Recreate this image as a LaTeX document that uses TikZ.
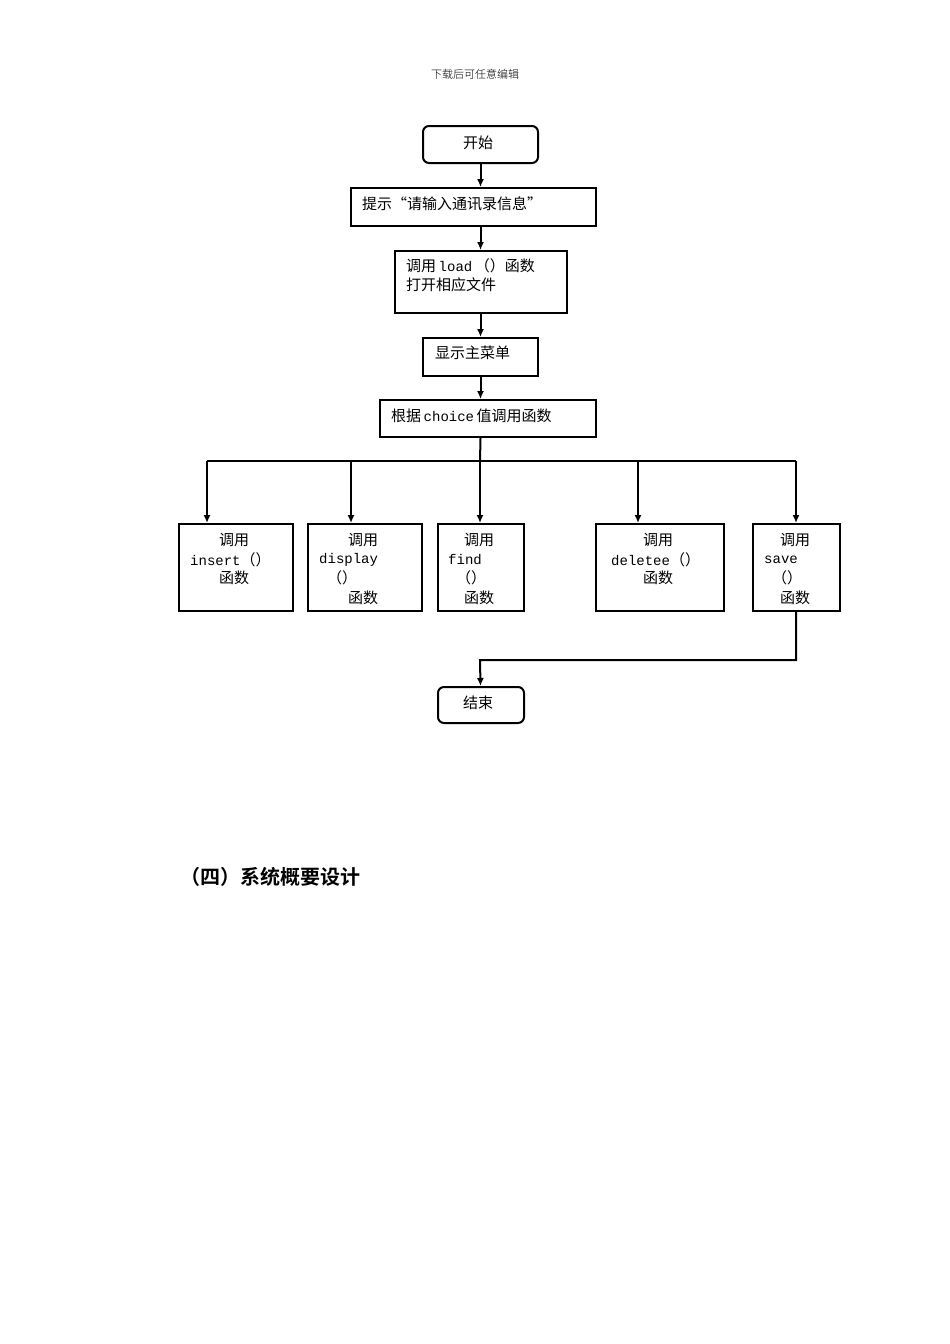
\documentclass[tikz,border=0pt]{standalone}
\usetikzlibrary{arrows.meta}
\usepackage{fontspec}
\newfontfamily\cjk{Noto Sans CJK SC}
\newfontfamily\cjkb{Noto Sans CJK SC Bold}
\newfontfamily\mymono{Liberation Mono}
\newfontfamily\hdr{Noto Sans CJK SC Light}
\newcommand\mm[1]{{\mymono\fontsize{14}{14}\selectfont #1}}
\begin{document}
\begin{tikzpicture}[x=1pt,y=-1pt,
  box/.style={draw,line width=2pt,anchor=north west,inner sep=0pt},
  rbox/.style={box,rounded corners=6pt},
  t/.style={anchor=west,inner sep=0pt,font=\cjk\fontsize{15}{15}\selectfont},
  ar/.style={line width=2pt,-{Latex[length=8pt,width=7pt]}},
  ln/.style={line width=2pt}]
\useasboundingbox (0,0) rectangle (950,1344);
\node[anchor=center,font=\hdr\fontsize{11}{11}\selectfont] (hd) at (475,74) {下载后可任意编辑};
% boxes
\node[rbox,minimum width=115pt,minimum height=37pt] (start) at (422,125) {};
\node[box,minimum width=245pt,minimum height=38pt] (prompt) at (350,187) {};
\node[box,minimum width=172pt,minimum height=62pt] (load) at (394,250) {};
\node[box,minimum width=115pt,minimum height=38pt] (menu) at (422,337) {};
\node[box,minimum width=216pt,minimum height=37pt] (choice) at (379,399) {};
\node[box,minimum width=114pt,minimum height=87pt] (ins) at (178,523) {};
\node[box,minimum width=114pt,minimum height=87pt] (dis) at (307,523) {};
\node[box,minimum width=86pt,minimum height=87pt] (fnd) at (437,523) {};
\node[box,minimum width=128pt,minimum height=87pt] (del) at (595,523) {};
\node[box,minimum width=87pt,minimum height=87pt] (sav) at (752,523) {};
\node[rbox,minimum width=86pt,minimum height=36pt] (end) at (437,686) {};
% texts
\node[t] (t1) at (463,143) {开始};
\node[t] (t2) at (362,204) {提示“请输入通讯录信息”};
\node[t] (t3) at (406,266) {调用\,\mm{load}\,（）函数};
\node[t] (t4) at (406,285) {打开相应文件};
\node[t] (t5) at (435,353) {显示主菜单};
\node[t] (t6) at (391,416) {根据\,\mm{choice}\,值调用函数};
\node[t] (i1) at (219,540) {调用};
\node[t] (i2) at (190,560) {\mm{insert}（）};
\node[t] (i3) at (219,578) {函数};
\node[t] (d1) at (348,540) {调用};
\node[t] (d2) at (319,560) {\mm{display}};
\node[t] (d3) at (327,578) {（）};
\node[t] (d4) at (348,598) {函数};
\node[t] (f1) at (464,540) {调用};
\node[t] (f2) at (448,560) {\mm{find}};
\node[t] (f3) at (456,578) {（）};
\node[t] (f4) at (464,598) {函数};
\node[t] (e1) at (643,540) {调用};
\node[t] (e2) at (611,560) {\mm{deletee}（）};
\node[t] (e3) at (643,578) {函数};
\node[t] (s1) at (780,540) {调用};
\node[t] (s2) at (764,560) {\mm{save}};
\node[t] (s3) at (772,578) {（）};
\node[t] (s4) at (780,598) {函数};
\node[t] (t7) at (463,703) {结束};
\node[anchor=west,inner sep=0pt,font=\cjkb\fontsize{20}{20}\selectfont] (h4) at (180,877) {（四）系统概要设计};
% connectors
\draw[ar] (start.south) -- (prompt.north-|start.south);
\draw[ar] (prompt.south-|start.south) -- (load.north-|start.south);
\draw[ar] (load.south-|start.south) -- (menu.north-|start.south);
\draw[ar] (menu.south-|start.south) -- (choice.north-|start.south);
\coordinate (bl) at (207,461);
\coordinate (br) at (796,461);
\draw[ln] (choice.south-|start.south) -- (480,461);
\draw[ln] (bl) -- (br);
\draw[ar] (bl) -- (ins.north-|bl);
\draw[ar] (351,461) -- (dis.north-|351,461);
\draw[ar] (480,461) -- (fnd.north-|480,461);
\draw[ar] (638,461) -- (del.north-|638,461);
\draw[ar] (br) -- (sav.north-|br);
\coordinate (sd) at (796,660);
\draw[ar] (sav.south-|br) -- (sd) -- (480,660) -- (end.north-|start.south);
\end{tikzpicture}
\end{document}
